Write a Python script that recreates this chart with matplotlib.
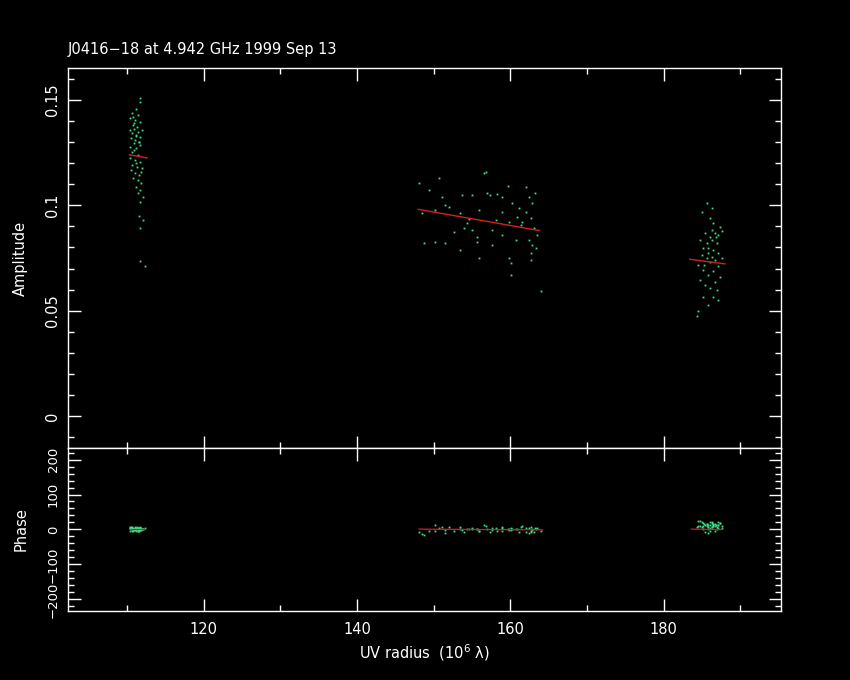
import numpy as np
import matplotlib
matplotlib.use("Agg")
import matplotlib.pyplot as plt
from matplotlib.ticker import MultipleLocator

# ---- data ----
title = "J0416\u221218 at 4.942 GHz 1999 Sep 13"

# cluster 1 (uv ~ 111)
uv1 = [111.65, 111.74, 111.21, 110.64, 111.39, 110.33, 111.08, 111.74, 110.78, 111.30,
       110.42, 110.95, 111.96, 110.64, 111.21, 111.65, 110.51, 111.08, 111.52, 110.86,
       111.74, 110.42, 111.21, 110.69, 111.39, 110.33, 111.04, 111.74, 110.64, 111.30,
       111.96, 110.51, 111.08, 111.61, 110.78, 111.39, 111.83, 111.21, 111.65, 111.43,
       112.04, 111.74, 111.52, 112.04, 111.65, 111.74, 112.31, 110.95, 111.43, 110.86,
       111.17, 111.56, 110.73, 111.87, 111.13]
amp1 = [0.1508, 0.1492, 0.1456, 0.1437, 0.1429, 0.1413, 0.1405, 0.1398, 0.1382, 0.1374,
        0.1358, 0.1361, 0.1358, 0.1342, 0.1334, 0.1326, 0.1319, 0.1311, 0.1303, 0.1295,
        0.1287, 0.1279, 0.1271, 0.1255, 0.1240, 0.1224, 0.1216, 0.1208, 0.1192, 0.1181,
        0.1176, 0.1168, 0.1153, 0.1145, 0.1129, 0.1121, 0.1105, 0.1089, 0.1074, 0.1058,
        0.1039, 0.1018, 0.0947, 0.0931, 0.0892, 0.0734, 0.0710, 0.1390, 0.1350, 0.1265,
        0.1200, 0.1300, 0.1420, 0.1160, 0.1330]
ph1 = [3, -2, 5, 1, -4, 6, 0, 2, -3, 7, 4, -1, 2, 5, -5, 3, 1, 6, -2, 0,
       4, -3, 2, 8, -1, 3, 0, 5, -4, 2, 1, 6, -2, 4, 0, 3, -1, 5, 2, -3,
       1, 4, 0, 2, 6, -2, 3, 1, 5, 0, 2, -4, 4, 1, 3]

# cluster 2 (uv ~ 148-164)
uv2 = [148.11, 150.64, 149.33, 156.76, 159.73, 162.09, 163.23, 162.88, 162.44, 151.08,
       153.70, 155.01, 156.98, 158.29, 158.94, 151.52, 151.95, 150.21, 148.46, 153.48,
       155.88, 158.94, 160.25, 161.13, 162.00, 160.91, 162.66, 161.56, 159.82, 158.07,
       154.57, 153.92, 155.01, 157.63, 158.94, 160.69, 161.35, 163.10, 162.44, 162.88,
       163.31, 163.53, 152.61, 148.68, 150.21, 151.52, 155.67, 157.63, 153.48, 155.88,
       159.82, 160.04, 162.66, 162.66, 160.04, 163.97, 156.54, 157.41, 155.67, 154.36]
amp2 = [0.1108, 0.1128, 0.1073, 0.1160, 0.1092, 0.1085, 0.1057, 0.1010, 0.1041, 0.1041,
        0.1049, 0.1049, 0.1057, 0.1052, 0.1041, 0.1002, 0.0994, 0.0978, 0.0962, 0.0962,
        0.0978, 0.0970, 0.1010, 0.0986, 0.0970, 0.0946, 0.0939, 0.0923, 0.0923, 0.0931,
        0.0934, 0.0891, 0.0883, 0.0883, 0.0860, 0.0836, 0.0907, 0.0891, 0.0836, 0.0812,
        0.0796, 0.0860, 0.0875, 0.0820, 0.0828, 0.0820, 0.0828, 0.0812, 0.0788, 0.0749,
        0.0749, 0.0725, 0.0741, 0.0773, 0.0670, 0.0591, 0.1152, 0.1049, 0.0852, 0.0915]
ph2 = [-8, 5, -3, 10, 2, -6, 4, 0, -10, 7, -2, 3, 1, -5, 6, -1, 8, -4, -12, 2,
       -3, 5, 0, -7, 3, 1, -4, 9, -2, 4, 0, -6, 2, 5, -3, 1, 7, -8, 3, -1,
       0, 4, -5, -15, 12, -9, 2, -2, 6, -4, 1, 3, -6, 8, -1, -3, 14, -7, 2, 0]

# cluster 3 (uv ~ 184-188)
uv3 = [185.61, 186.27, 184.96, 186.05, 186.49, 187.36, 187.58, 187.14, 186.71, 185.39,
       186.05, 184.74, 186.27, 185.61, 186.92, 185.18, 186.49, 185.83, 187.14, 184.96,
       186.27, 185.61, 186.71, 186.05, 184.52, 187.14, 185.18, 186.49, 185.83, 187.36,
       184.74, 186.71, 185.39, 186.05, 186.92, 185.18, 186.49, 187.14, 185.83, 184.52,
       184.30, 186.27, 186.79, 185.75, 185.31, 187.58]
amp3 = [0.1010, 0.0986, 0.0970, 0.0939, 0.0915, 0.0899, 0.0876, 0.0860, 0.0868, 0.0868,
        0.0852, 0.0836, 0.0836, 0.0820, 0.0820, 0.0797, 0.0789, 0.0773, 0.0773, 0.0765,
        0.0757, 0.0749, 0.0741, 0.0733, 0.0718, 0.0710, 0.0694, 0.0686, 0.0670, 0.0662,
        0.0646, 0.0638, 0.0623, 0.0607, 0.0599, 0.0567, 0.0567, 0.0552, 0.0528, 0.0496,
        0.0473, 0.0883, 0.0852, 0.0797, 0.0718, 0.0749]
ph3 = [15, 8, 20, -3, 12, 18, 5, 22, 10, -6, 14, 25, 7, 16, 2, 19, 11, -9, 13, 6,
       21, 9, 17, 3, 24, 12, 0, 15, 8, 18, 10, -4, 14, 20, 6, 11, 16, 4, 13, 9,
       7, 19, 12, 2, 15, 10]

# fitted model lines (red)
fit_uv = [[110.3, 112.6], [148.0, 163.8], [183.4, 188.0]]
fit_amp = [[0.1240, 0.1225], [0.0981, 0.0880], [0.0744, 0.0722]]
fit_ph_uv = [[110.5, 112.4], [148.1, 164.2], [183.6, 187.7]]
fit_ph = [[0, 0], [1, -1], [1, 0]]

green = "#3fe08a"
red = "#d42020"

plt.rcParams["font.family"] = "DejaVu Sans"
fig = plt.figure(figsize=(8.5, 6.8), dpi=100, facecolor="black")
ax1 = fig.add_axes([0.080, 0.3412, 0.8388, 0.5588], facecolor="black")
ax2 = fig.add_axes([0.080, 0.1015, 0.8388, 0.2397], facecolor="black", sharex=ax1)

for u, a in [(uv1, amp1), (uv2, amp2), (uv3, amp3)]:
    ax1.plot(u, a, "s", color=green, markersize=1.3, markeredgewidth=0)
for u, p in [(uv1, ph1), (uv2, ph2), (uv3, ph3)]:
    ax2.plot(u, p, "s", color=green, markersize=1.3, markeredgewidth=0)
for u, a in zip(fit_uv, fit_amp):
    ax1.plot(u, a, color=red, lw=1.0)
for u, p in zip(fit_ph_uv, fit_ph):
    ax2.plot(u, p, color=red, lw=0.9)

ax1.set_xlim(102.3, 195.3)
ax1.set_ylim(-0.0152, 0.1652)
ax2.set_ylim(-233, 233)

for ax in (ax1, ax2):
    for s in ax.spines.values():
        s.set_color("white")
        s.set_linewidth(1.0)
    ax.tick_params(which="both", direction="in", top=True, right=True, colors="white",
                   labelsize=10.5, width=1.0)
    ax.tick_params(which="major", length=9)
    ax.tick_params(which="minor", length=4.5)
    ax.xaxis.set_major_locator(MultipleLocator(20))
    ax.xaxis.set_minor_locator(MultipleLocator(10))

ax1.yaxis.set_major_locator(MultipleLocator(0.05))
ax1.yaxis.set_minor_locator(MultipleLocator(0.01))
ax1.set_yticks([0, 0.05, 0.1, 0.15])
ax1.set_yticklabels(["0", "0.05", "0.1", "0.15"], rotation=90, va="center")
ax1.tick_params(axis="x", labelbottom=False)

ax2.yaxis.set_major_locator(MultipleLocator(100))
ax2.yaxis.set_minor_locator(MultipleLocator(20))
ax2.set_yticks([-200, -100, 0, 100, 200])
ax2.set_yticklabels(["\u2212200", "\u2212100", "0", "100", "200"], rotation=90, va="center",
                    fontsize=9.5)
ax2.tick_params(axis="x", pad=8)
ax1.tick_params(axis="y", pad=6)
ax2.tick_params(axis="y", pad=6)

ax1.set_ylabel("Amplitude", color="white", fontsize=10.5, labelpad=12)
ax2.set_ylabel("Phase", color="white", fontsize=10.5, labelpad=13)
ax2.set_xlabel("UV radius  (10$^6$ \u03bb)", color="white", fontsize=10.5, labelpad=4)
ax1.set_title(title, color="white", fontsize=10.5, loc="left", pad=10)

fig.savefig("out.png", dpi=100, facecolor="black")
